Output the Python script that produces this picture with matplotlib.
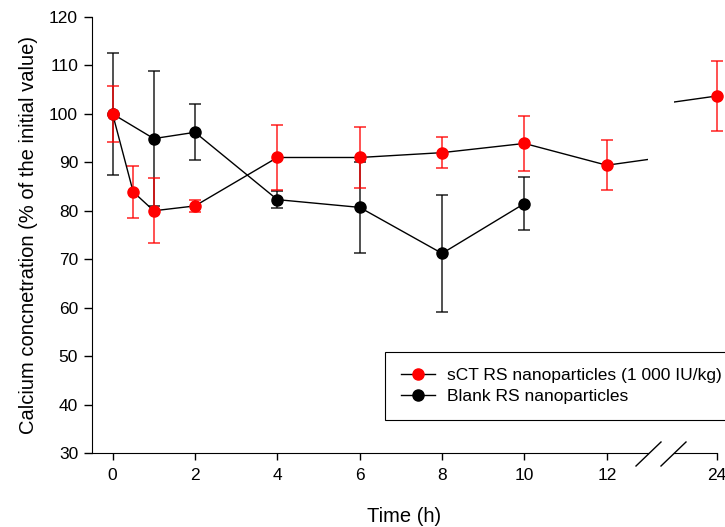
import numpy as np
import matplotlib.pyplot as plt
from matplotlib.lines import Line2D

plt.rcParams['font.family'] = ['Liberation Sans', 'DejaVu Sans']

# sCT RS nanoparticles (1 000 IU/kg)
t_sct = np.array([0, 0.5, 1, 2, 4, 6, 8, 10, 12, 24])
ca_sct = np.array([100, 83.9, 80.0, 81.0, 91.0, 91.0, 92.0, 93.9, 89.4, 103.7])
err_sct = np.array([5.7, 5.3, 6.7, 1.2, 6.8, 6.2, 3.2, 5.6, 5.2, 7.2])

# Blank RS nanoparticles
t_blank = np.array([0, 1, 2, 4, 6, 8, 10])
ca_blank = np.array([100, 94.9, 96.2, 82.3, 80.7, 71.2, 81.5])
err_blank = np.array([12.6, 14.0, 5.8, 1.8, 9.4, 12.1, 5.5])

xticks_left = [0, 2, 4, 6, 8, 10, 12]
xticks_right = [24]
yticks = [30, 40, 50, 60, 70, 80, 90, 100, 110, 120]

W, H = 725, 527
fig = plt.figure(figsize=(W / 100, H / 100), dpi=100)

# broken x axis: 0..13 and 23..24
ax1 = fig.add_axes([92 / W, 74 / H, (648 - 92) / W, 436 / H])
ax2 = fig.add_axes([674 / W, 74 / H, (717 - 674) / W, 436 / H], sharey=ax1)
ax2.patch.set_visible(False)


def draw(ax, t, y, e, col, only=None):
    ax.plot(t, y, color='black', lw=1, zorder=2)
    m = np.ones(len(t), bool) if only is None else only(t)
    clip = only is None
    eb = ax.errorbar(t[m], y[m], yerr=e[m], fmt='none', ecolor=col, elinewidth=1.2,
                     capsize=4.5, capthick=1.2, alpha=0.8, zorder=1)
    for a in eb.lines[1] + eb.lines[2]:
        a.set_clip_on(clip)
    ax.plot(t[m], y[m], 'o', color=col, ms=8, mec=col, zorder=3, clip_on=clip)


for ax, sel in [(ax1, None), (ax2, lambda t: t > 13)]:
    draw(ax, t_blank, ca_blank, err_blank, 'black', sel)
    draw(ax, t_sct, ca_sct, err_sct, 'red', sel)

ax1.set_xlim(-0.5, 13)
ax2.set_xlim(22.95, 24)
ax1.set_ylim(30, 120)
ax1.set_yticks(yticks)
ax1.set_xticks(xticks_left)
ax2.set_xticks(xticks_right)

for ax in (ax1, ax2):
    ax.spines['top'].set_visible(False)
    ax.spines['right'].set_visible(False)
    ax.tick_params(direction='out', length=5, width=1, labelsize=12.5, pad=6)
ax2.spines['left'].set_visible(False)
ax2.tick_params(axis='y', left=False, labelleft=False)
ax1.tick_params(axis='y', length=6, pad=4)

ax1.set_ylabel('Calcium concnetration (% of the initial value)', fontsize=14.5, labelpad=8)
fig.text(404 / W, 1 - 516 / H, 'Time (h)', fontsize=14.5, ha='center', va='center')

# break marks
for cx in (648.5, 673.5):
    fig.add_artist(Line2D([(cx - 12.5) / W, (cx + 12.5) / W],
                          [1 - 466 / H, 1 - 442 / H], color='black', lw=1))

handles = [Line2D([], [], color='black', lw=1, marker='o', ms=8, mfc='red', mec='red'),
           Line2D([], [], color='black', lw=1, marker='o', ms=8, mfc='black', mec='black')]
leg = fig.legend(handles, ['sCT RS nanoparticles (1 000 IU/kg)', 'Blank RS nanoparticles'],
                 loc='upper left', bbox_to_anchor=(385 / W, 1 - 352 / H),
                 fontsize=12.5, fancybox=False, framealpha=1, edgecolor='black',
                 handlelength=2.0, handletextpad=0.7, borderpad=0.9,
                 labelspacing=0.35, borderaxespad=0)
leg.get_frame().set_linewidth(0.8)
leg.set_zorder(10)

fig.savefig('out.png', dpi=100)
